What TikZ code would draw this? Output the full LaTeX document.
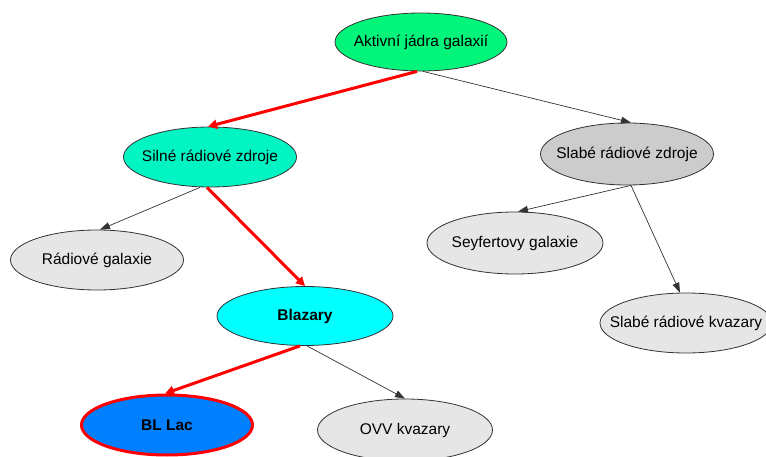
\documentclass[tikz,border=0pt]{standalone}
\usepackage{fontspec}
\setmainfont{Liberation Sans}
\usetikzlibrary{shapes.geometric,arrows.meta}

\definecolor{agnGreen}{HTML}{00F57A}
\definecolor{strongAqua}{HTML}{00F5C3}
\definecolor{weakGray}{HTML}{CCCCCC}
\definecolor{leafGray}{HTML}{E6E6E6}
\definecolor{blazCyan}{HTML}{00FFFF}
\definecolor{bllBlue}{HTML}{0080FF}
\definecolor{edgeGray}{HTML}{333333}

% zero-width label so the ellipse size comes only from minimum width/height
\newcommand{\flatlabel}[1]{\makebox[0pt]{#1}}

\tikzset{
  blob/.style={ellipse, draw=edgeGray, line width=0.8pt, inner sep=0pt,
    minimum width=173pt, minimum height=60pt, text=black,
    font=\fontsize{15.5}{18}\selectfont},
  leaf/.style={blob, fill=leafGray},
  link/.style={draw=edgeGray, line width=0.7pt,
    -{Triangle[length=10pt,width=7pt]}},
  hot/.style={draw=red, line width=3pt,
    -{Triangle[length=9pt,width=9pt]}},
}

\begin{document}
\begin{tikzpicture}[x=1pt,y=-1pt]
\useasboundingbox (0,0) rectangle (766,457);
\clip (0,0) rectangle (766,457);

% classification tree
\node[blob, fill=agnGreen, minimum width=172pt, minimum height=58pt] (agn) at (421,42) {\flatlabel{Aktivní jádra galaxií}};
\node[blob, fill=strongAqua] (strong) at (210,157) {\flatlabel{Silné rádiové zdroje}};
\node[blob, fill=weakGray, minimum height=62pt] (weak) at (627,154) {\flatlabel{Slabé rádiové zdroje}};
\node[leaf] (radiogal) at (97,260) {\flatlabel{Rádiové galaxie}};
\node[leaf, minimum width=176pt, minimum height=62pt] (seyfert) at (515,243) {\flatlabel{Seyfertovy galaxie}};
\node[blob, fill=blazCyan, minimum width=176pt, minimum height=59pt, font=\fontsize{15.5}{18}\selectfont\bfseries] (blazar) at (305,316) {\flatlabel{Blazary}};
\node[leaf, minimum width=172pt] (weakq) at (686,323) {\flatlabel{Slabé rádiové kvazary}};
\node[blob, fill=bllBlue, draw=red, line width=3pt, minimum width=171pt, font=\fontsize{15.5}{18}\selectfont\bfseries] (bllac) at (167,425) {\flatlabel{BL Lac}};
\node[leaf, minimum width=175pt, minimum height=62pt] (ovv) at (405,430) {\flatlabel{OVV kvazary}};

% connectors
\draw[hot]  ([xshift=-4pt]agn.south) -- ([xshift=-2pt]strong.north);
\draw[link] ([xshift=2pt]agn.south) -- ([xshift=4pt]weak.north);
\draw[link] ([xshift=-10pt]strong.south) -- ([xshift=3pt]radiogal.north);
\draw[hot]  ([xshift=-3pt]strong.south) -- (blazar.north);
\draw[link] ([xshift=4pt]weak.south) -- ([xshift=3pt]seyfert.north);
\draw[link] ([xshift=4pt]weak.south) -- ([xshift=-6pt]weakq.north);
\draw[hot]  ([xshift=-5pt]blazar.south) -- ([xshift=-2pt]bllac.north);
\draw[link] ([xshift=2pt]blazar.south) -- (ovv.north);
\end{tikzpicture}
\end{document}
